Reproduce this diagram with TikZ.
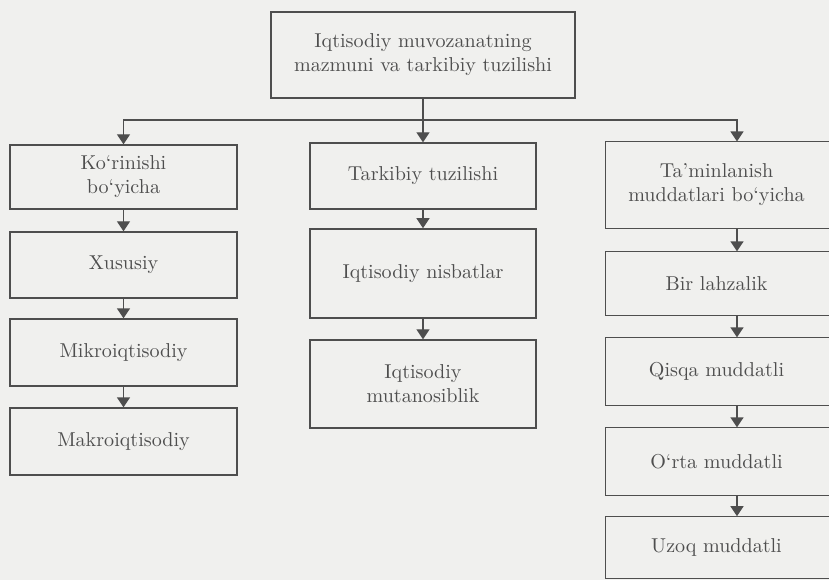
\documentclass[tikz,border=0pt]{standalone}
\usepackage{tikz}
\usetikzlibrary{arrows.meta}
\definecolor{paper}{RGB}{240,240,238}
\definecolor{ink}{RGB}{78,78,78}
\tikzset{
  blok/.style={draw=ink, line width=0.7pt, text=ink, align=center, inner sep=2pt},
  chap/.style={blok, minimum width=3.97cm},
  orta/.style={blok, minimum width=3.95cm},
  ong/.style={blok, draw=none, minimum width=3.87cm}
}
\begin{document}
\begin{tikzpicture}[x=0.0175cm, y=-0.0175cm, >={Triangle[width=6.5pt,length=5pt]}, line width=0.7pt, draw=ink]
\fill[paper] (0,0) rectangle (829,580);
\useasboundingbox (0,0) rectangle (829,580);
\clip (0,0) rectangle (829,580);

\node[blok, minimum width=5.32cm, minimum height=1.5cm] (top) at (423,55) {Iqtisodiy muvozanatning\\mazmuni va tarkibiy tuzilishi};

\node[chap, minimum height=1.12cm] (l1) at (123.5,177) {Ko‘rinishi\\bo‘yicha};
\node[chap, minimum height=1.155cm] (l2) at (123.5,265) {Xususiy};
\node[chap, minimum height=1.17cm] (l3) at (123.5,352.5) {Mikroiqtisodiy};
\node[chap, minimum height=1.17cm] (l4) at (123.5,441.5) {Makroiqtisodiy};

\node[orta, minimum height=1.155cm] (m1) at (423,176) {Tarkibiy tuzilishi};
\node[orta, minimum height=1.56cm] (m2) at (423,273.5) {Iqtisodiy nisbatlar};
\node[orta, minimum height=1.54cm] (m3) at (423,384) {Iqtisodiy\\mutanosiblik};

\node[ong, minimum height=1.5cm] (r1) at (716.5,185) {Ta’minlanish\\muddatlari bo‘yicha};
\node[ong, minimum height=1.1cm] (r2) at (716.5,283.5) {Bir lahzalik};
\node[ong, minimum height=1.17cm] (r3) at (716.5,371.5) {Qisqa muddatli};
\node[ong, minimum height=1.17cm] (r4) at (716.5,461.5) {O‘rta muddatli};
\node[ong, minimum height=1.07cm] (r5) at (716.5,547.5) {Uzoq muddatli};

\foreach \n in {r1,r2,r3,r4,r5}
  \draw[ink] ([xshift=1cm]\n.north east) -- (\n.north west) -- (\n.south west) -- ([xshift=1cm]\n.south east);

\coordinate (bus) at (423,120);
\coordinate (rx) at (737,0);

\draw[->, ink] (top.south) -- (m1.north);
\draw[->, ink] (bus) -| (l1.north);
\draw[->, ink] (bus) -| (r1.north -| rx);

\draw[->, ink] (l1) -- (l2);
\draw[->, ink] (l2) -- (l3);
\draw[->, ink] (l3) -- (l4);

\draw[->, ink] (m1) -- (m2);
\draw[->, ink] (m2) -- (m3);

\draw[->, ink] (r1.south -| rx) -- (r2.north -| rx);
\draw[->, ink] (r2.south -| rx) -- (r3.north -| rx);
\draw[->, ink] (r3.south -| rx) -- (r4.north -| rx);
\draw[->, ink] (r4.south -| rx) -- (r5.north -| rx);
\end{tikzpicture}
\end{document}
